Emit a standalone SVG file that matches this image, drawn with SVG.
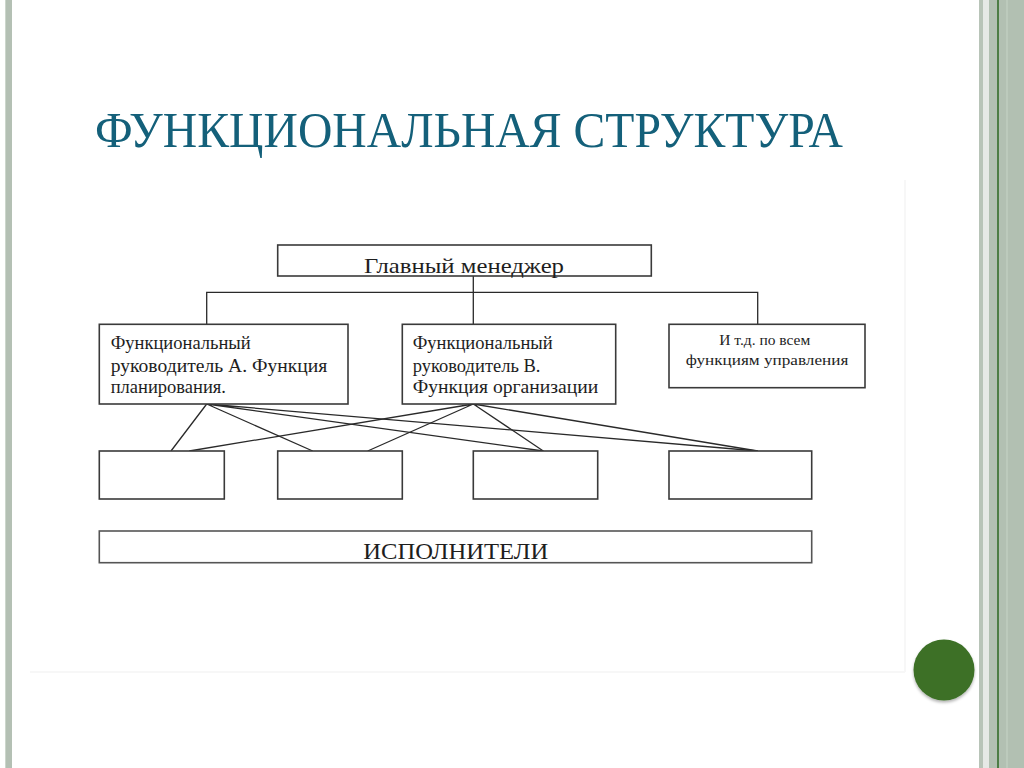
<svg xmlns="http://www.w3.org/2000/svg" width="1024" height="768" viewBox="0 0 1024 768">
<defs>
<style>
.box{fill:#ffffff;stroke:#3a3a3a;stroke-width:1.6}
.ln{stroke:#2a2a2a;stroke-width:1.3;fill:none}
.t{font-family:"Liberation Serif","Times New Roman",serif;fill:#1e1e1e}
.title{font-family:"Liberation Serif","Times New Roman",serif;fill:#14607a}
</style>
<filter id="sh" x="-30%" y="-30%" width="160%" height="170%">
<feDropShadow dx="0" dy="2" stdDeviation="1.5" flood-color="#000" flood-opacity="0.3"/>
</filter>
</defs>
<rect width="1024" height="768" fill="#ffffff"/>
<!-- left border -->
<rect x="5" y="0" width="7" height="768" fill="#b4c0b4"/>
<rect x="5" y="0" width="1" height="768" fill="#ccd6cc"/>
<!-- right border -->
<rect x="979" y="0" width="4" height="768" fill="#b8c4b8"/>
<rect x="983" y="0" width="6" height="768" fill="#e6e9e6"/>
<rect x="989" y="0" width="35" height="768" fill="#b2c0b2"/>
<rect x="997" y="0" width="2" height="768" fill="#4d7d45"/>
<rect x="1006" y="0" width="2" height="768" fill="#bccabc"/>
<!-- faint image edge -->
<path d="M905 180 V672 M30 672 H905" stroke="#f7f7f7" stroke-width="2" fill="none"/>

<text class="title" x="95" y="147" font-size="50" textLength="748" lengthAdjust="spacingAndGlyphs">ФУНКЦИОНАЛЬНАЯ СТРУКТУРА</text>

<g id="connectors">
<path class="ln" d="M473.3 276 V324 M206.7 324 V292.3 H757.7 V324"/>
<path class="ln" d="M206.7 404 L171 451 M206.7 404 L312.7 451 M206.7 404 L543.3 451 M206.7 404 L757.7 451"/>
<path class="ln" d="M473.3 404 L189.3 451 M473.3 404 L367.7 451 M473.3 404 L543.3 451 M473.3 404 L757.7 451"/>
</g>

<g id="main">
<rect class="box" x="277.7" y="245" width="373.6" height="31"/>
<text class="t" x="364" y="273.3" font-size="21" textLength="200" lengthAdjust="spacingAndGlyphs">Главный менеджер</text>
</g>

<g id="funcA">
<rect class="box" x="99.3" y="324.3" width="248.7" height="79.7"/>
<text class="t" font-size="18.5">
<tspan x="110.7" y="349.3">Функциональный</tspan>
<tspan x="110.7" y="371.5" textLength="216.6" lengthAdjust="spacingAndGlyphs">руководитель А. Функция</tspan>
<tspan x="110.7" y="393.3">планирования.</tspan>
</text>
</g>

<g id="funcB">
<rect class="box" x="402.3" y="324.3" width="213.4" height="79.7"/>
<text class="t" font-size="18.5">
<tspan x="412.7" y="349.3">Функциональный</tspan>
<tspan x="412.7" y="371.5">руководитель В.</tspan>
<tspan x="412.7" y="393.3" textLength="185.6" lengthAdjust="spacingAndGlyphs">Функция организации</tspan>
</text>
</g>

<g id="funcC">
<rect class="box" x="669" y="324.3" width="196" height="63.4"/>
<text class="t" font-size="15.5" text-anchor="middle">
<tspan x="766.7" y="345">И т.д. по всем</tspan>
<tspan x="767" y="364.5" textLength="162.6" lengthAdjust="spacingAndGlyphs">функциям управления</tspan>
</text>
</g>

<g id="exec1"><rect class="box" x="99.3" y="451" width="125" height="48"/></g>
<g id="exec2"><rect class="box" x="277.7" y="451" width="124.6" height="48"/></g>
<g id="exec3"><rect class="box" x="473.3" y="451" width="124.4" height="48"/></g>
<g id="exec4"><rect class="box" x="669" y="451" width="142.7" height="48"/></g>

<g id="executors">
<rect class="box" x="99.3" y="531" width="712.4" height="31.7" style="stroke:#555"/>
<text class="t" x="363.3" y="559.3" font-size="24" textLength="185" lengthAdjust="spacingAndGlyphs">ИСПОЛНИТЕЛИ</text>
</g>

<circle cx="944" cy="670" r="30.5" fill="#3c7026" filter="url(#sh)"/>
</svg>
